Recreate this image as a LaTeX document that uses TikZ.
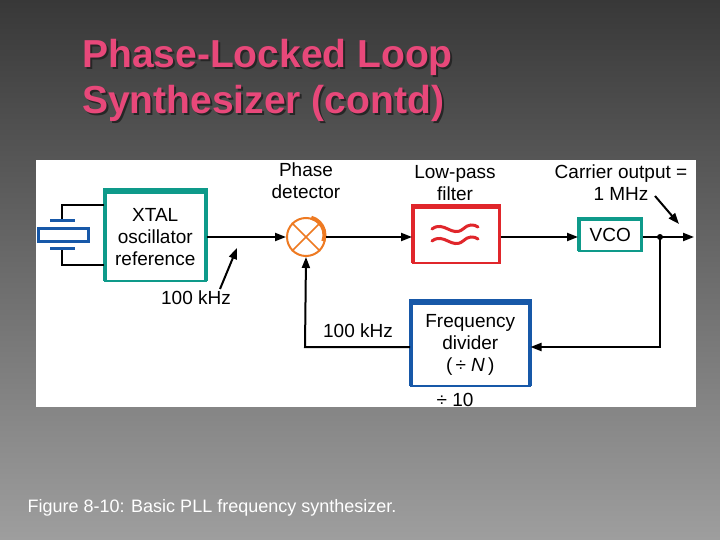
\documentclass[tikz,border=0pt]{standalone}
\usepackage{fontspec}
\setmainfont{Liberation Sans}
\usetikzlibrary{arrows.meta}
\definecolor{teal1}{HTML}{0E9A8A}
\definecolor{red1}{HTML}{E0262B}
\definecolor{blue1}{HTML}{1758A8}
\definecolor{org}{HTML}{EE7A22}
\definecolor{pink1}{HTML}{E8487A}
\begin{document}
\begin{tikzpicture}[x=1pt,y=-1pt,
  lbl/.style={font=\fontsize{19}{22}\selectfont,align=center,text=black},
  box/.style={draw=#1,line width=2.5pt,fill=white,inner sep=0pt},
  con/.style={line width=2pt,black},
  arr/.style={con,-{Triangle[length=11pt,width=8pt]}}]
\useasboundingbox (0,0) rectangle (720,540);
\shade[top color=black!78,bottom color=black!38] (0,0) rectangle (720,540);
\node[anchor=north west,text=black!85,font=\fontsize{39}{46}\selectfont\bfseries,align=left,inner sep=0pt] (tshadow) at (84,41) {Phase-Locked Loop\\Synthesizer (contd)};
\node[anchor=north west,text=pink1,font=\fontsize{39}{46}\selectfont\bfseries,align=left,inner sep=0pt] (title) at (82,39) {Phase-Locked Loop\\Synthesizer (contd)};
\fill[white] (36,160) rectangle (696,407);
% boxes (3D bands drawn behind)
\fill[teal1] (103,188) rectangle (208,281);
\node[box=teal1,minimum width=100pt,minimum height=88pt,lbl,anchor=south west] (x) at (104,282) {XTAL\\oscillator\\reference};
\fill[red1] (411,204) rectangle (501,263);
\node[box=red1,minimum width=86pt,minimum height=55pt,anchor=south west] (lpf) at (412,264) {};
\foreach \yy in {229,241}
 \draw[red1,line width=3pt,line cap=round] (432,\yy) .. controls (444,\yy-9) and (452,\yy+9) .. (463,\yy) .. controls (468,\yy-5) and (474,\yy-5) .. (478,\yy-2);
\fill[teal1] (577,217) rectangle (643,251);
\node[box=teal1,minimum width=62pt,minimum height=31pt,lbl,anchor=south west] (vco) at (578,252) {VCO};
\fill[blue1] (409,299) rectangle (532,386);
\node[box=blue1,minimum width=118pt,minimum height=82pt,lbl,anchor=south west] (fd) at (410,387) {Frequency\\divider\\(\,÷ \textit{N}\,)};
% phase detector
\node[circle,draw=org,line width=2pt,minimum size=38pt,fill=white,inner sep=0pt] (pd) at (306,237) {};
\draw[org,line width=1.5pt] (pd.45)--(pd.225) (pd.135)--(pd.315);
\draw[org,line width=4pt] (pd.75) arc (75:-20:18pt);
% crystal
\coordinate (c1) at (62,205); \coordinate (c2) at (62,265);
\draw[con] (x.west|-c1) -- (c1) -- (62,221);
\draw[con] (x.west|-c2) -- (c2) -- (62,248);
\draw[blue1,line width=3pt] (50,221)--(75,221) (50,248)--(75,248);
\draw[blue1,line width=3pt] (38,229) rectangle (88,241);
% connectors
\draw[arr] (x.east|-pd) -- (pd.west);
\draw[arr] (pd.east) -- (lpf.west|-pd);
\draw[arr] (lpf.east|-pd) -- (vco.west|-pd);
\coordinate (j) at (660,237);
\coordinate (o) at (694,237);
\draw[con] (vco.east|-j) -- (j);
\draw[arr] (j) -- (o);
\fill (j) circle (3pt);
\coordinate (b1) at (660,347);
\draw[arr] (j) -- (b1) -- (fd.east|-b1);
\coordinate (b2) at (305,347);
\draw[arr] (fd.west|-b2) -- (b2) -- (pd.south);
% labels
\node[lbl] (lp) at (306,181) {Phase\\detector};
\node[lbl] (ll) at (455,183) {Low-pass\\filter};
\node[lbl] (lc) at (621,183) {Carrier output =\\1 MHz};
\coordinate (ac) at (679,224);
\draw[arr] (655,196) -- (ac);
\node[lbl] (l1) at (196,298) {100 kHz};
\coordinate (a1) at (237,248);
\draw[arr] (220,289) -- (a1);
\node[lbl] (l2) at (358,331) {100 kHz};
\node[lbl] (l3) at (455,400) {÷ 10};
\node[anchor=west,text=white,font=\fontsize{18}{20}\selectfont] (cap) at (24,508) {Figure 8-10: Basic PLL frequency synthesizer.};
\end{tikzpicture}
\end{document}
